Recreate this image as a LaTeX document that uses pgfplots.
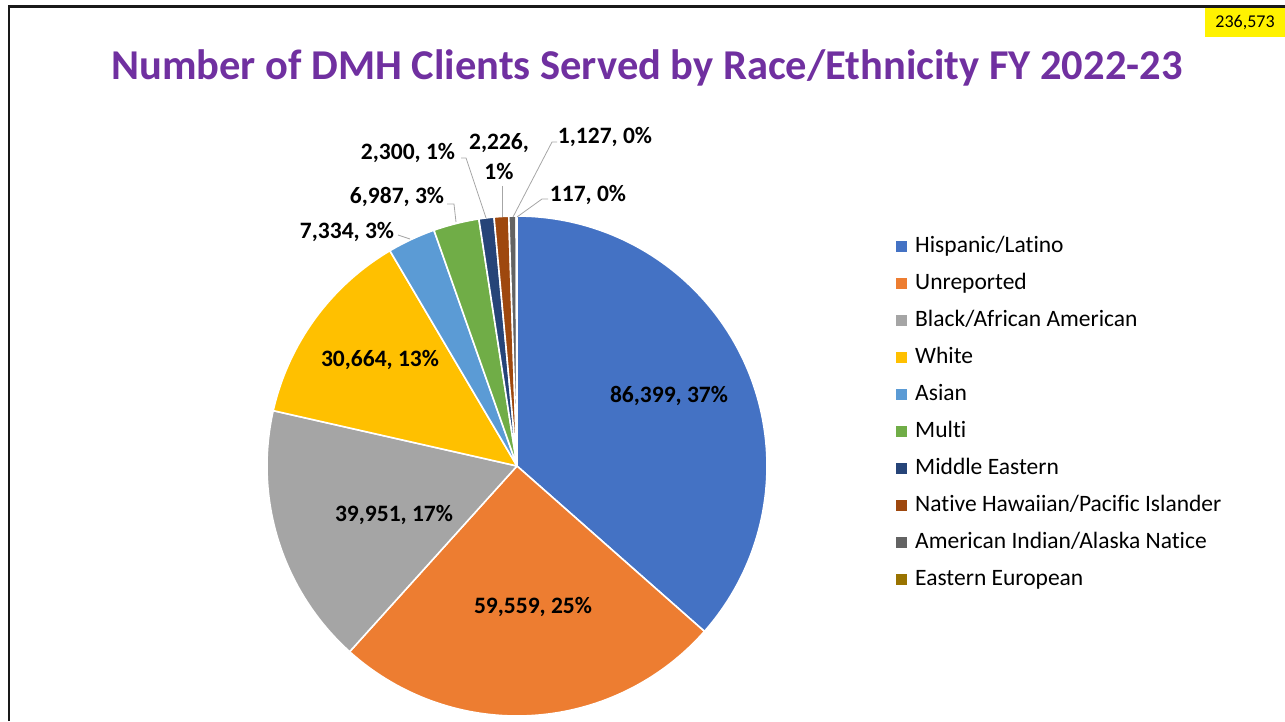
\documentclass[border=0pt]{standalone}
\usepackage{pgfplots}
\pgfplotsset{compat=1.18}
\usepackage{fontspec}
\setmainfont{Carlito}[Ligatures=NoCommon]
\definecolor{cA}{HTML}{4472C4}
\definecolor{cB}{HTML}{ED7D31}
\definecolor{cC}{HTML}{A5A5A5}
\definecolor{cD}{HTML}{FFC000}
\definecolor{cE}{HTML}{5B9BD5}
\definecolor{cF}{HTML}{70AD47}
\definecolor{cG}{HTML}{264478}
\definecolor{cH}{HTML}{9E480E}
\definecolor{cI}{HTML}{636363}
\definecolor{cJ}{HTML}{997300}
\definecolor{titlepurple}{HTML}{7030A0}
\definecolor{leader}{HTML}{A6A6A6}
\begin{document}
\begin{tikzpicture}[x=1pt,y=1pt]
\path[use as bounding box] (0,0) rectangle (1285,721);
% data: clients served
\def\vA{86399}\def\vB{59559}\def\vC{39951}\def\vD{30664}\def\vE{7334}
\def\vF{6987}\def\vG{2300}\def\vH{2226}\def\vI{1127}\def\vJ{117}
\edef\total{\fpeval{\vA+\vB+\vC+\vD+\vE+\vF+\vG+\vH+\vI+\vJ}}
\gdef\cum{0}
\newcommand\defslice[2]{%
  \expandafter\xdef\csname s#1\endcsname{\fpeval{90-360*(\cum)/\total}}%
  \xdef\cum{\fpeval{\cum+#2}}%
  \expandafter\xdef\csname e#1\endcsname{\fpeval{90-360*(\cum)/\total}}%
}
\defslice{A}{\vA}\defslice{B}{\vB}\defslice{C}{\vC}\defslice{D}{\vD}\defslice{E}{\vE}
\defslice{F}{\vF}\defslice{G}{\vG}\defslice{H}{\vH}\defslice{I}{\vI}\defslice{J}{\vJ}
% frame
\draw[line width=2.5pt,black!90] (9,0) -- (9,714.5) -- (1285,714.5);
% title
\node[font=\fontsize{42.5}{48}\selectfont\bfseries, text=titlepurple] at (647,653) {Number of DMH Clients Served by Race/Ethnicity FY 2022-23};
% yellow box
\fill[yellow] (1205,684) rectangle (1285,713);
\node[font=\fontsize{18}{21}\selectfont] at (1245,698.5) {236,573};
\begin{axis}[at={(517pt,255pt)}, anchor=center, scale only axis,
  width=500pt, height=500pt, xmin=-1, xmax=1, ymin=-1, ymax=1,
  hide axis, clip=false,
  every axis plot/.append style={draw=white, line width=1.6pt, line join=round, samples=90, variable=\t},
  legend style={at={(axis description cs:1.258,0.962)}, anchor=north west, draw=none, fill=none,
    inner sep=0pt, row sep=15pt, font=\fontsize{23.5}{28}\selectfont,
    nodes={text height=17pt, text depth=5pt, inner sep=0pt, inner xsep=8pt}},
  legend cell align=left,
  legend image code/.code={\fill[#1,draw=none] (0pt,-5.5pt) rectangle (11pt,5.5pt);},
]
\addplot[fill=cA, domain=\eA:\sA] ({cos(\t)},{sin(\t)}) -- (axis cs:0,0) -- cycle;
\addlegendentry{Hispanic/Latino}
\addplot[fill=cB, domain=\eB:\sB] ({cos(\t)},{sin(\t)}) -- (axis cs:0,0) -- cycle;
\addlegendentry{Unreported}
\addplot[fill=cC, domain=\eC:\sC] ({cos(\t)},{sin(\t)}) -- (axis cs:0,0) -- cycle;
\addlegendentry{Black/African American}
\addplot[fill=cD, domain=\eD:\sD] ({cos(\t)},{sin(\t)}) -- (axis cs:0,0) -- cycle;
\addlegendentry{White}
\addplot[fill=cE, domain=\eE:\sE] ({cos(\t)},{sin(\t)}) -- (axis cs:0,0) -- cycle;
\addlegendentry{Asian}
\addplot[fill=cF, domain=\eF:\sF] ({cos(\t)},{sin(\t)}) -- (axis cs:0,0) -- cycle;
\addlegendentry{Multi}
\addplot[fill=cG, domain=\eG:\sG] ({cos(\t)},{sin(\t)}) -- (axis cs:0,0) -- cycle;
\addlegendentry{Middle Eastern}
\addplot[fill=cH, domain=\eH:\sH] ({cos(\t)},{sin(\t)}) -- (axis cs:0,0) -- cycle;
\addlegendentry{Native Hawaiian/Pacific Islander}
\addplot[fill=cI, domain=\eI:\sI] ({cos(\t)},{sin(\t)}) -- (axis cs:0,0) -- cycle;
\addlegendentry{American Indian/Alaska Natice}
\addplot[fill=cJ, domain=\eJ:\sJ] ({cos(\t)},{sin(\t)}) -- (axis cs:0,0) -- cycle;
\addlegendentry{Eastern European}
\end{axis}
% leader lines
\begin{scope}[leader, line width=0.8pt]
\draw (398,486) -- (410,482);
\draw (447,517) -- (454,517) -- (456,499);
\draw (461,563) -- (466,563) -- (486,503);
\draw (502,535) -- (502,504);
\draw (557,579) -- (552,579) -- (513,504);
\draw (548,522) -- (542,522) -- (517,504);
\end{scope}
% data labels
\begin{scope}[every node/.style={font=\fontsize{23.5}{30}\selectfont\bfseries, text=black, inner sep=0pt}]
\node at (669,325) {86,399, 37\%};
\node at (533,114) {59,559, 25\%};
\node at (394,206) {39,951, 17\%};
\node at (380,361) {30,664, 13\%};
\node at (347,489) {7,334, 3\%};
\node at (397,524) {6,987, 3\%};
\node at (408,568) {2,300, 1\%};
\node[align=center] at (499,564) {2,226,\\1\%};
\node at (605,584) {1,127, 0\%};
\node at (588,526) {117, 0\%};
\end{scope}
\end{tikzpicture}
\end{document}
